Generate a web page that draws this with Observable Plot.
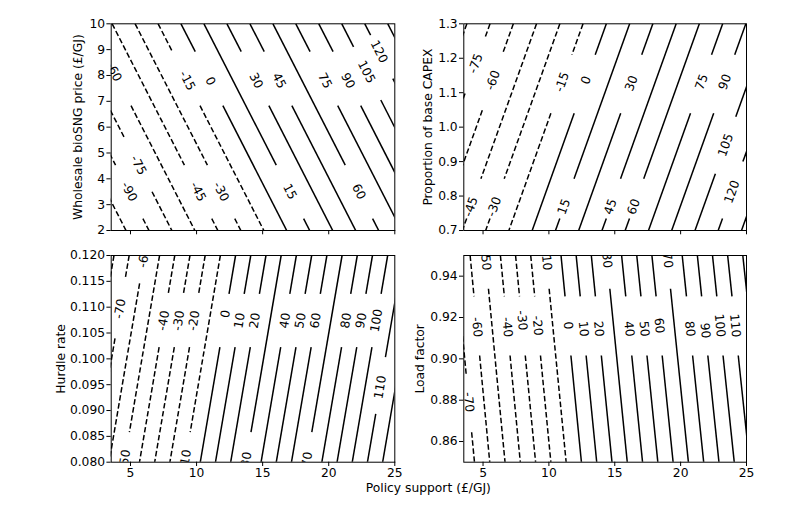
<!DOCTYPE html>
<html><head><meta charset="utf-8">
<script src="https://cdn.jsdelivr.net/npm/d3@7"></script>
<script src="https://cdn.jsdelivr.net/npm/@observablehq/plot@0.6"></script>
<style>
body{margin:0;background:#fff;}
#fig{position:relative;width:792px;height:510px;font-family:"DejaVu Sans",sans-serif;overflow:hidden;}
#fig svg{position:absolute;}
#xlabel{position:absolute;left:428.3px;top:488px;transform:translate(-50%,-50%);font-size:12.3px;line-height:1;white-space:nowrap;color:#000;}
</style></head>
<body><div id="fig"><div id="xlabel">Policy support (£/GJ)</div></div>
<script>
// ---- shared x axis ----
const xDomain = [3.54, 25];
const xTicks = [5, 10, 15, 20, 25];
const xTitle = "Policy support (£/GJ)";

// ---- Panel 1: wholesale bioSNG price ----
const p1Title = "Wholesale bioSNG price (£/GJ)";
const p1YDomain = [2, 10];
const p1YTicks = [2, 3, 4, 5, 6, 7, 8, 9, 10];
const p1Levels = [-105,-90,-75,-60,-45,-30,-15,0,15,30,45,60,75,90,105,120,135];
const p1XAtTop = [-3.34,-1.60,0.13,1.87,3.61,5.35,7.09,8.82,10.56,12.30,14.04,15.78,17.51,19.25,20.99,22.73,24.47];
const p1XAtBottom = [4.66,6.40,8.13,9.87,11.61,13.35,15.09,16.82,18.56,20.30,22.04,23.78,25.51,27.25,28.99,30.73,32.47];
const p1LabelY = [null,3.5,4.53,8.14,3.5,3.5,7.8,7.78,3.5,7.8,7.8,3.5,7.8,7.8,8.14,8.92,null];
const p1GapHi = [null,4.53,5.56,8.92,4.53,4.53,8.92,8.92,4.53,8.92,8.92,4.53,8.92,8.92,9.11,9.56,null];
const p1GapLo = [null,2.46,3.50,6.83,2.46,2.46,6.83,6.83,2.46,6.83,6.83,2.46,6.83,6.83,7.05,7.88,null];

// ---- Panel 2: proportion of base CAPEX ----
const p2Title = "Proportion of base CAPEX";
const p2YDomain = [0.7, 1.3];
const p2YTicks = [0.7, 0.8, 0.9, 1.0, 1.1, 1.2, 1.3];
const p2Levels = [-90,-75,-60,-45,-30,-15,0,15,30,45,60,75,90,105,120,135];
const p2XAtTop = [3.77,5.53,7.30,9.06,10.83,12.59,14.36,16.13,17.89,19.66,21.42,23.19,24.95,26.72,28.48,30.25];
const p2XAtBottom = [-1.86,-0.10,1.67,3.43,5.20,6.96,8.73,10.50,12.26,14.03,15.79,17.56,19.32,21.09,22.85,24.62];
const p2LabelY = [null,1.185,1.136,0.769,0.769,1.131,1.136,0.769,1.127,0.769,0.769,1.131,1.131,0.948,0.812,null];
const p2GapHi = [null,1.262,1.214,0.85,0.85,1.21,1.21,0.85,1.21,0.85,0.85,1.21,1.21,1.03,0.90,null];
const p2GapLo = [null,1.098,1.049,0.735,0.735,1.04,1.04,0.735,1.04,0.735,0.735,1.04,1.04,0.865,0.735,null];

// ---- Panel 3: hurdle rate ----
const p3Title = "Hurdle rate";
const p3YDomain = [0.08, 0.12];
const p3YTicks = [0.080, 0.085, 0.090, 0.095, 0.100, 0.105, 0.110, 0.115, 0.120];
const p3Levels = [-80,-70,-60,-50,-40,-30,-20,-10,0,10,20,30,40,50,60,70,80,90,100,110,120];
const p3XAtTop = [3.75,4.90,6.05,7.20,8.35,9.50,10.65,11.80,12.95,14.10,15.25,16.40,17.55,18.71,19.86,21.01,22.16,23.31,24.46,25.61,26.76];
const p3XAtBottom = [1.08,2.23,3.38,4.53,5.68,6.83,7.98,9.13,10.28,11.43,12.58,13.73,14.88,16.03,17.18,18.33,19.48,20.63,21.78,22.93,24.08];
const p3LabelY = [null,0.1097,0.1196,0.0805,0.1074,0.1074,0.1074,0.0805,0.1087,0.1074,0.1074,0.0805,0.1074,0.1074,0.1074,0.0805,0.1074,0.1074,0.1074,0.0945,null];
const p3GapHi = [null,0.11555,0.121,0.0858,0.11259,0.11259,0.11259,0.0858,0.11259,0.11259,0.11259,0.0858,0.11259,0.11259,0.11259,0.0858,0.11259,0.11259,0.11259,0.10032,null];
const p3GapLo = [null,0.10394,0.1146,0.079,0.10226,0.10226,0.10226,0.079,0.10226,0.10226,0.10226,0.079,0.10226,0.10226,0.10226,0.079,0.10226,0.10226,0.10226,0.08937,null];

// ---- Panel 4: load factor ----
const p4Title = "Load factor";
const p4YDomain = [0.85, 0.95];
const p4YTicks = [0.86, 0.88, 0.90, 0.92, 0.94];
const p4Levels = [-70,-60,-50,-40,-30,-20,-10,0,10,20,30,40,50,60,70,80,90,100,110,120];
const p4XAtTop = [2.87,4.02,5.17,6.32,7.47,8.62,9.77,10.92,12.07,13.22,14.37,15.52,16.67,17.82,18.97,20.12,21.27,22.42,23.57,24.72];
const p4XAtBottom = [4.35,5.51,6.67,7.83,8.99,10.15,11.31,12.47,13.63,14.79,15.95,17.11,18.27,19.43,20.59,21.75,22.91,24.07,25.23,26.39];
const p4LabelY = [0.879,0.9153,0.9476,0.9153,0.9186,0.9161,0.9476,0.9161,0.9145,0.9145,0.9476,0.9145,0.9145,0.9161,0.9476,0.9145,0.9137,0.9161,0.9161,null];
const p4GapHi = [0.8928,0.9302,0.96,0.9302,0.9302,0.9302,0.96,0.9302,0.9302,0.9302,0.96,0.9302,0.9302,0.9302,0.96,0.9302,0.9302,0.9302,0.9302,null];
const p4GapLo = [0.8645,0.9016,0.9339,0.9016,0.9016,0.9016,0.9339,0.9016,0.9016,0.9016,0.9339,0.9016,0.9016,0.9016,0.9339,0.9016,0.9016,0.9016,0.9016,null];

const FS = 12.3;

function panel(cfg) {
  const {levels, xTop, xBot, labelY, gapHi, gapLo, yDomain, yTicks, yFmt, showX, left, top, width, height, ml, mr, mt, mb, title, titleDx} = cfg;
  const [y0, y1] = yDomain;
  const fw = width - ml - mr, fh = height - mt - mb;
  const kx = fw / (xDomain[1] - xDomain[0]), ky = fh / (y1 - y0);
  const pieces = [], labels = [];
  levels.forEach((L, i) => {
    const xAt = y => xBot[i] + (xTop[i] - xBot[i]) * (y - y0) / (y1 - y0);
    const spans = gapHi[i] == null ? [[y1, y0]] : [[y1, gapHi[i]], [gapLo[i], y0]];
    for (const [a, b] of spans) if (a > b) pieces.push({L, x1: xAt(a), y1: a, x2: xAt(b), y2: b});
    if (labelY[i] != null) {
      let ang = Math.atan2(-(y1 - y0) * ky, (xTop[i] - xBot[i]) * kx) * 180 / Math.PI;
      if (ang > 90) ang -= 180;
      if (ang < -90) ang += 180;
      labels.push({text: String(L), x: xAt(labelY[i]), y: labelY[i], ang});
    }
  });
  const chart = Plot.plot({
    width, height, marginLeft: ml, marginRight: mr, marginTop: mt, marginBottom: mb,
    x: {domain: xDomain},
    y: {domain: yDomain},
    style: {fontFamily: "DejaVu Sans", fontSize: FS + "px", color: "black", background: "transparent", overflow: "visible"},
    marks: [
      Plot.link(pieces.filter(d => d.L < 0), {x1: "x1", y1: "y1", x2: "x2", y2: "y2", stroke: "black", strokeWidth: 1.5, strokeDasharray: "5.5,2.6", clip: true}),
      Plot.link(pieces.filter(d => d.L >= 0), {x1: "x1", y1: "y1", x2: "x2", y2: "y2", stroke: "black", strokeWidth: 1.5, clip: true}),
      labels.map(d => Plot.text([d], {x: "x", y: "y", text: "text", rotate: d.ang, fontSize: FS, fill: "black", clip: true})),
      Plot.axisX({ticks: xTicks, tickSize: 4.3, tickPadding: 1.7, tickFormat: showX ? (d => String(d)) : (() => ""), label: null, fontSize: FS}),
      Plot.axisY({ticks: yTicks, tickSize: 4.3, tickPadding: 1.8, tickFormat: yFmt, label: null, fontSize: FS}),
      Plot.frame({stroke: "black", strokeWidth: 1}),
      Plot.text([title], {text: d => d, frameAnchor: "left", textAnchor: "middle", lineAnchor: "middle", dx: titleDx, rotate: -90, fontSize: FS, fill: "black"})
    ]
  });
  chart.style.left = left + "px";
  chart.style.top = top + "px";
  document.getElementById("fig").appendChild(chart);
}

panel({levels: p1Levels, xTop: p1XAtTop, xBot: p1XAtBottom, labelY: p1LabelY, gapHi: p1GapHi, gapLo: p1GapLo,
  yDomain: p1YDomain, yTicks: p1YTicks, yFmt: d => String(d), showX: false,
  left: 0, top: 0, width: 396, height: 245, ml: 110.7, mr: 1.7, mt: 23.3, mb: 15, title: p1Title, titleDx: -32.7});
panel({levels: p2Levels, xTop: p2XAtTop, xBot: p2XAtBottom, labelY: p2LabelY, gapHi: p2GapHi, gapLo: p2GapLo,
  yDomain: p2YDomain, yTicks: p2YTicks, yFmt: d => d.toFixed(1), showX: false,
  left: 396, top: 0, width: 396, height: 245, ml: 67.3, mr: 46, mt: 23.3, mb: 15, title: p2Title, titleDx: -35.8});
panel({levels: p3Levels, xTop: p3XAtTop, xBot: p3XAtBottom, labelY: p3LabelY, gapHi: p3GapHi, gapLo: p3GapLo,
  yDomain: p3YDomain, yTicks: p3YTicks, yFmt: d => d.toFixed(3), showX: true,
  left: 0, top: 245, width: 396, height: 265, ml: 110.7, mr: 1.7, mt: 10, mb: 48.3, title: p3Title, titleDx: -49.7});
panel({levels: p4Levels, xTop: p4XAtTop, xBot: p4XAtBottom, labelY: p4LabelY, gapHi: p4GapHi, gapLo: p4GapLo,
  yDomain: p4YDomain, yTicks: p4YTicks, yFmt: d => d.toFixed(2), showX: true,
  left: 396, top: 245, width: 396, height: 265, ml: 67.3, mr: 46, mt: 10, mb: 48.3, title: p4Title, titleDx: -43.8});
</script>
</body></html>
